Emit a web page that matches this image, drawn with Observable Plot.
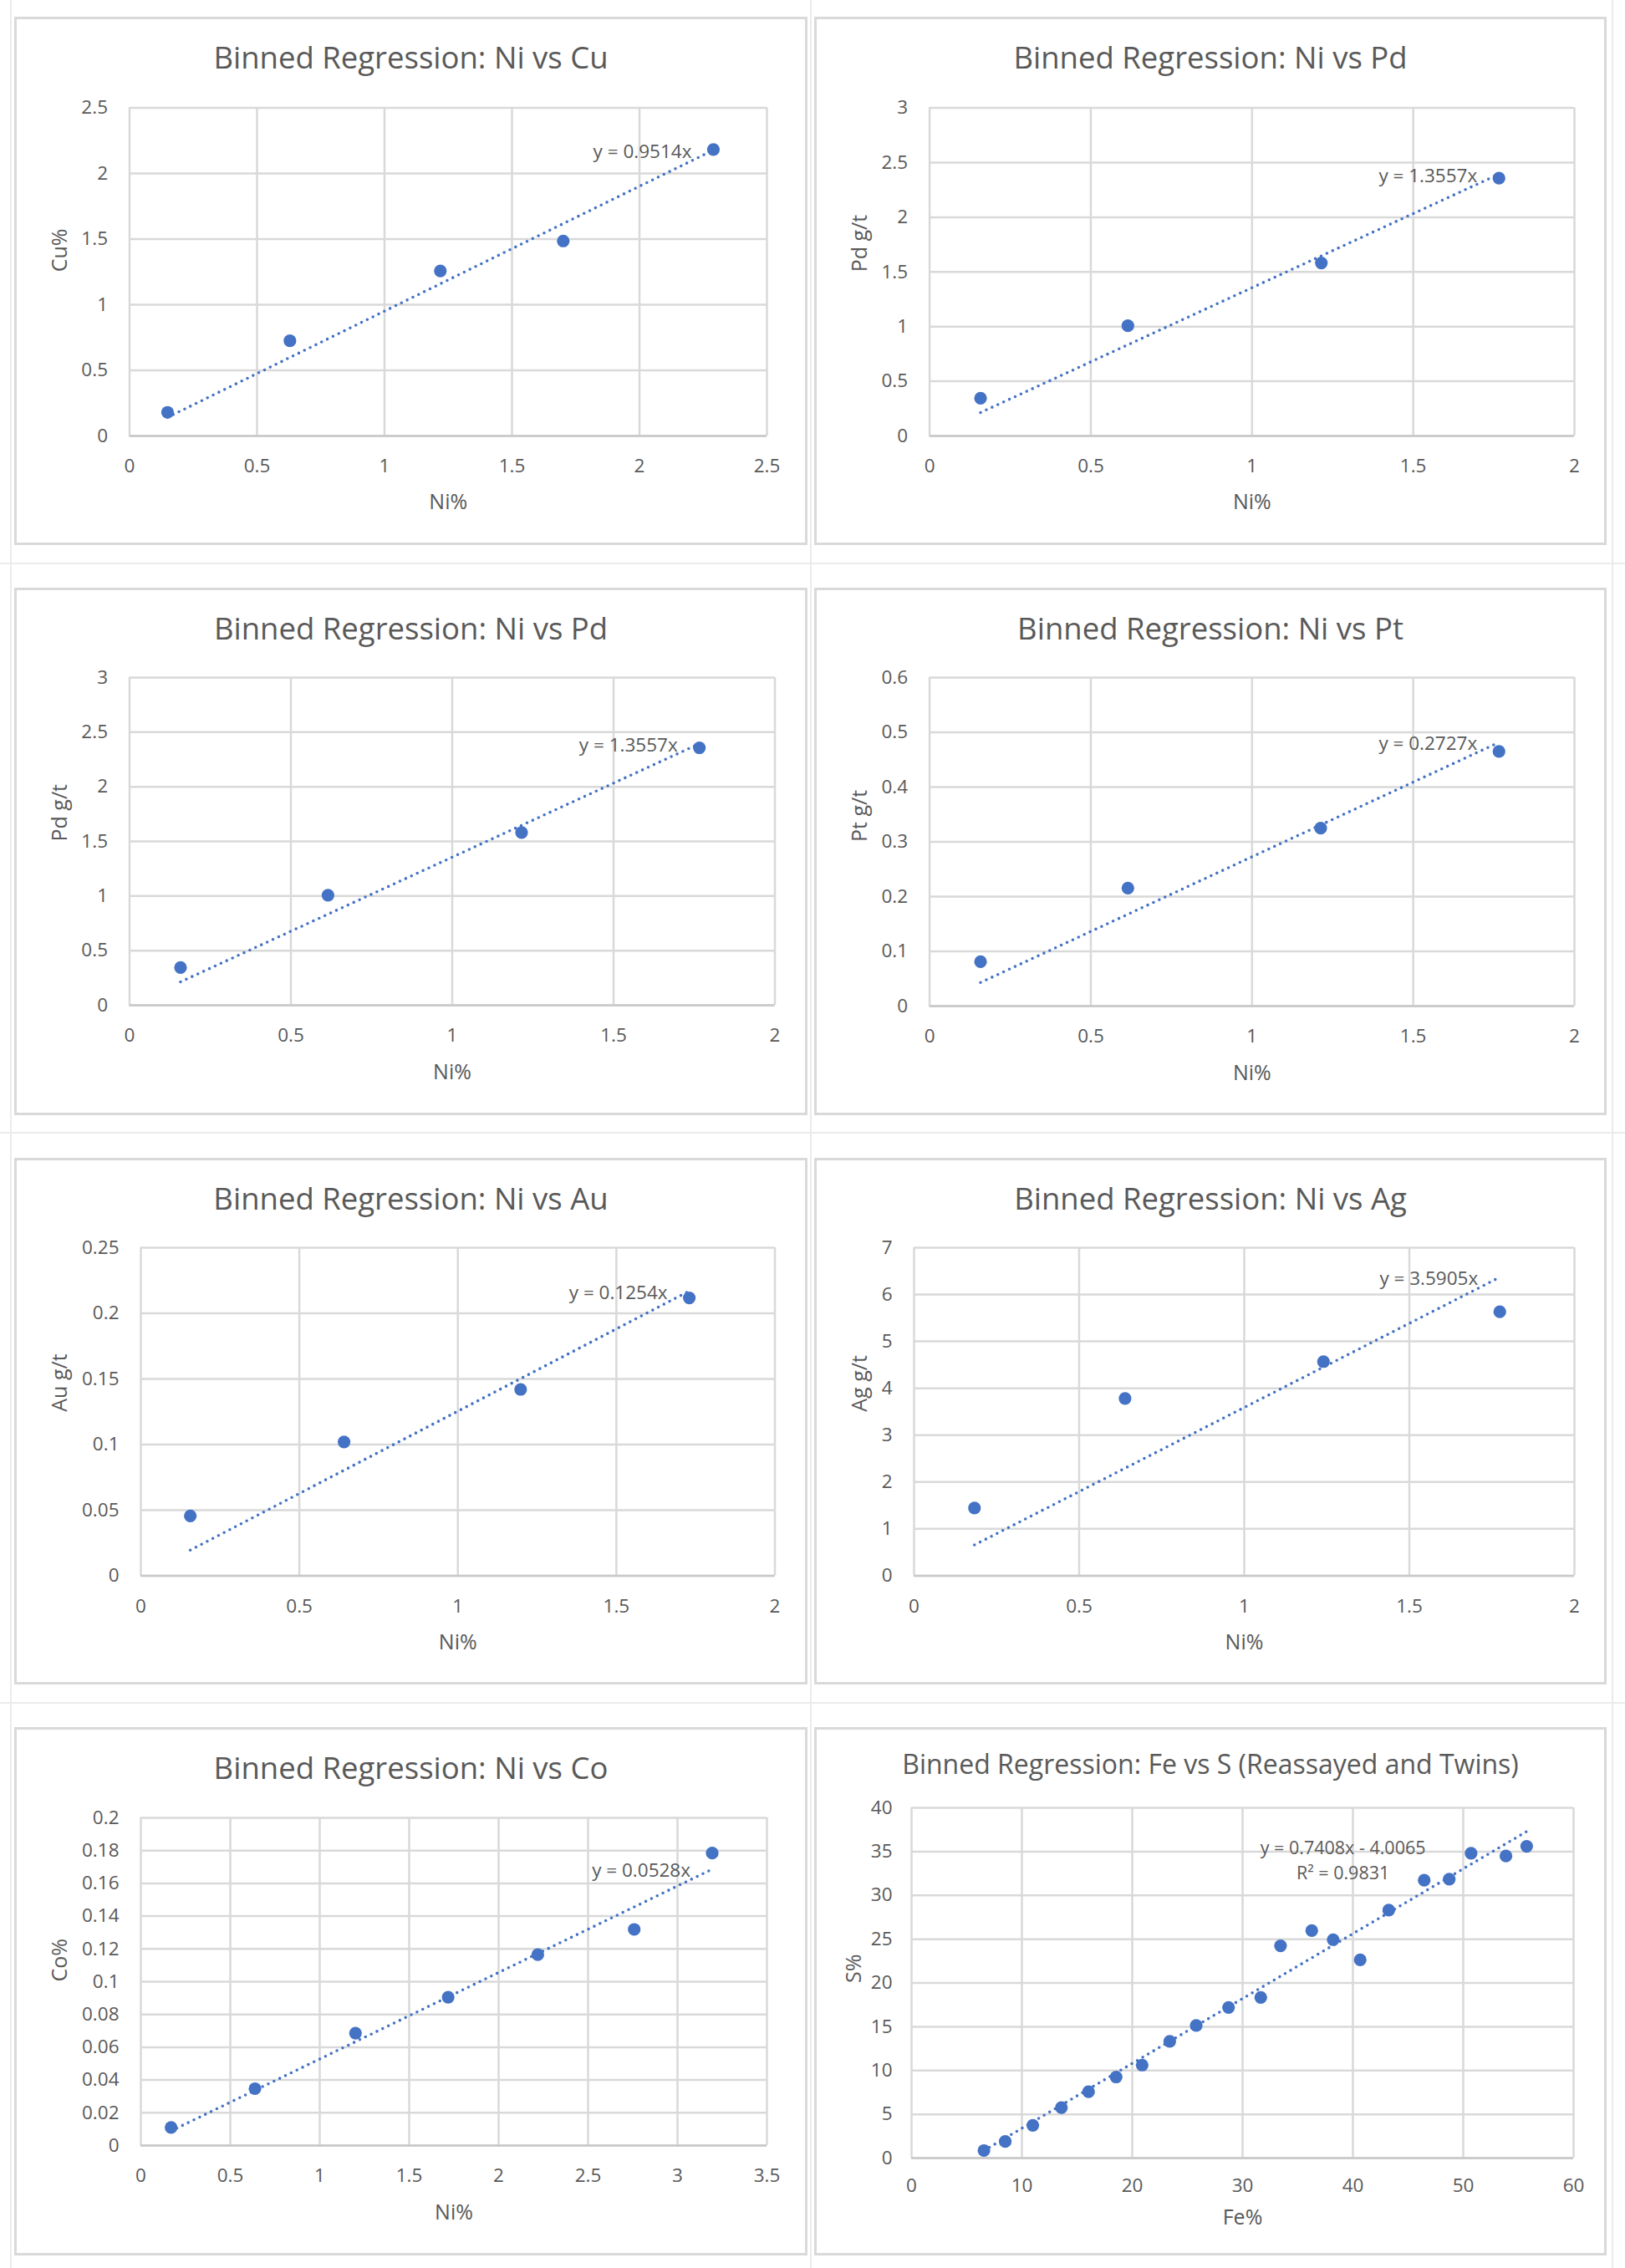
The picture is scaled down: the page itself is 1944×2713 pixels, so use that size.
<!DOCTYPE html>
<html>
<head>
<meta charset="utf-8">
<script src="https://cdn.jsdelivr.net/npm/d3@7"></script>
<script src="https://cdn.jsdelivr.net/npm/@observablehq/plot@0.6"></script>
<style>
  html, body { margin: 0; padding: 0; background: #ffffff; }
  body { width: 1944px; height: 2713px; position: relative; overflow: hidden; font-family: 'Open Sans', 'Noto Sans', sans-serif; }
  .panel { position: absolute; }
  .frame { position: absolute; left: 0; top: 0; right: 0; bottom: 0; border: 3px solid #d9d9d9; box-sizing: border-box; pointer-events: none; }
  .title { position: absolute; left: 0; right: 0; text-align: center; color: #595959; white-space: nowrap; }
  .plotbox { position: absolute; left: 0; }
  .cellline { position: absolute; background: #ebebeb; }
</style>
</head>
<body>
<script>
// ---------- data ----------
const titles = [
  "Binned Regression: Ni vs Cu",
  "Binned Regression: Ni vs Pd",
  "Binned Regression: Ni vs Pd",
  "Binned Regression: Ni vs Pt",
  "Binned Regression: Ni vs Au",
  "Binned Regression: Ni vs Ag",
  "Binned Regression: Ni vs Co",
  "Binned Regression: Fe vs S (Reassayed and Twins)"
];
const xLabels = ["Ni%", "Ni%", "Ni%", "Ni%", "Ni%", "Ni%", "Ni%", "Fe%"];
const yLabels = ["Cu%", "Pd g/t", "Pd g/t", "Pt g/t", "Au g/t", "Ag g/t", "Co%", "S%"];

const cuNi = [0.149, 0.629, 1.219, 1.701, 2.290];
const cuVal = [0.180, 0.725, 1.258, 1.486, 2.183];

const pdNi = [0.158, 0.615, 1.215, 1.766];
const pdVal = [0.345, 1.008, 1.582, 2.357];

const ptNi = [0.158, 0.615, 1.213, 1.766];
const ptVal = [0.081, 0.2155, 0.325, 0.465];

const auNi = [0.156, 0.641, 1.198, 1.730];
const auVal = [0.0456, 0.102, 0.142, 0.2117];

const agNi = [0.183, 0.639, 1.240, 1.774];
const agVal = [1.445, 3.784, 4.569, 5.633];

const coNi = [0.169, 0.638, 1.200, 1.718, 2.219, 2.758, 3.194];
const coVal = [0.011, 0.0347, 0.0686, 0.0905, 0.1165, 0.1319, 0.1785];

const feVal = [6.56, 8.49, 10.99, 13.58, 16.04, 18.54, 20.90, 23.40, 25.80, 28.73, 31.65,
               33.44, 36.27, 38.21, 40.66, 43.25, 46.46, 48.73, 50.71, 53.87, 55.75];
const sVal  = [0.86, 1.89, 3.74, 5.76, 7.57, 9.26, 10.62, 13.33, 15.14, 17.20, 18.35,
               24.24, 25.97, 24.94, 22.63, 28.31, 31.73, 31.85, 34.81, 34.49, 35.60];

// trendline equations (slope, intercept) and their labels
const slopes = [0.9514, 1.3557, 1.3557, 0.2727, 0.1254, 3.5905, 0.0528, 0.7408];
const intercepts = [0, 0, 0, 0, 0, 0, 0, -4.0065];
const eqLabels = ["y = 0.9514x", "y = 1.3557x", "y = 1.3557x", "y = 0.2727x", "y = 0.1254x",
                  "y = 3.5905x", "y = 0.0528x", "y = 0.7408x - 4.0065\nR² = 0.9831"];
const eqLabelFe = [39.1, 34.2]; // data-space anchor of the Fe vs S equation label

// axis ticks and tick labels
const xTicks = [
  [0, 0.5, 1, 1.5, 2, 2.5],
  [0, 0.5, 1, 1.5, 2],
  [0, 0.5, 1, 1.5, 2],
  [0, 0.5, 1, 1.5, 2],
  [0, 0.5, 1, 1.5, 2],
  [0, 0.5, 1, 1.5, 2],
  [0, 0.5, 1, 1.5, 2, 2.5, 3, 3.5],
  [0, 10, 20, 30, 40, 50, 60]
];
const xTickLabels = [
  ["0", "0.5", "1", "1.5", "2", "2.5"],
  ["0", "0.5", "1", "1.5", "2"],
  ["0", "0.5", "1", "1.5", "2"],
  ["0", "0.5", "1", "1.5", "2"],
  ["0", "0.5", "1", "1.5", "2"],
  ["0", "0.5", "1", "1.5", "2"],
  ["0", "0.5", "1", "1.5", "2", "2.5", "3", "3.5"],
  ["0", "10", "20", "30", "40", "50", "60"]
];
const yTicks = [
  [0, 0.5, 1, 1.5, 2, 2.5],
  [0, 0.5, 1, 1.5, 2, 2.5, 3],
  [0, 0.5, 1, 1.5, 2, 2.5, 3],
  [0, 0.1, 0.2, 0.3, 0.4, 0.5, 0.6],
  [0, 0.05, 0.1, 0.15, 0.2, 0.25],
  [0, 1, 2, 3, 4, 5, 6, 7],
  [0, 0.02, 0.04, 0.06, 0.08, 0.1, 0.12, 0.14, 0.16, 0.18, 0.2],
  [0, 5, 10, 15, 20, 25, 30, 35, 40]
];
const yTickLabels = [
  ["0", "0.5", "1", "1.5", "2", "2.5"],
  ["0", "0.5", "1", "1.5", "2", "2.5", "3"],
  ["0", "0.5", "1", "1.5", "2", "2.5", "3"],
  ["0", "0.1", "0.2", "0.3", "0.4", "0.5", "0.6"],
  ["0", "0.05", "0.1", "0.15", "0.2", "0.25"],
  ["0", "1", "2", "3", "4", "5", "6", "7"],
  ["0", "0.02", "0.04", "0.06", "0.08", "0.1", "0.12", "0.14", "0.16", "0.18", "0.2"],
  ["0", "5", "10", "15", "20", "25", "30", "35", "40"]
];

const seriesX = [cuNi, pdNi, pdNi, ptNi, auNi, agNi, coNi, feVal];
const seriesY = [cuVal, pdVal, pdVal, ptVal, auVal, agVal, coVal, sVal];

// ---------- layout (page pixels) ----------
// panel box [left, top, right, bottom] and plot box [left, top, right, bottom]
const panelBoxes = [
  [17, 20, 966, 652], [974, 20, 1922, 652],
  [17, 703, 966, 1334], [974, 703, 1922, 1334],
  [17, 1385, 966, 2015], [974, 1385, 1922, 2015],
  [17, 2066, 966, 2698], [974, 2066, 1922, 2698]
];
const plotBoxes = [
  [154.5, 128.6, 917, 521], [1111.6, 128.6, 1883, 521],
  [154.5, 810, 926.5, 1202], [1111.6, 810, 1883, 1203],
  [168, 1492, 926.5, 1884.4], [1093, 1492, 1883, 1884.4],
  [168, 2174, 917, 2566], [1090, 2162, 1882, 2581]
];
const titleSize = [36.5, 36.5, 36.5, 36.5, 36.5, 36.5, 36.5, 32];
const titleBaseline = [62.5, 62.5, 62.5, 62.5, 62.5, 62.5, 62.5, 56];
const yTitleCenter = [54.5, 54.5, 54.5, 54.5, 54.5, 54.5, 54.5, 47];
const xTitleOffset = [79, 79, 80, 80, 80, 80, 80, 71];
const xTickPad = [28, 28, 28, 28, 28, 28, 28, 25];
const yTickPad = [26, 26, 26, 26, 26, 26, 26, 23];
const eqSize = [22.5, 22.5, 22.5, 22.5, 22.5, 22.5, 22.5, 21.5];

const TITLE_H = 80;
const BLUE = "#4472C4";
const GREY_TEXT = "#595959";
const GRID = "#d9d9d9";
const FONT = "'Open Sans', 'Noto Sans', sans-serif";

// faint spreadsheet cell lines behind the charts
[[12, 0, 2, 2713], [969, 0, 2, 2713], [1928, 0, 2, 2713],
 [0, 673, 1944, 2], [0, 1354, 1944, 2], [0, 2036, 1944, 2]].forEach(([l, t, w, h]) => {
  const d = document.createElement("div");
  d.className = "cellline";
  Object.assign(d.style, {left: l + "px", top: t + "px", width: w + "px", height: h + "px"});
  document.body.appendChild(d);
});

titles.forEach((title, i) => {
  const [pl, pt, pr, pb] = panelBoxes[i];
  const [ql, qt, qr, qb] = plotBoxes[i];
  const W = pr - pl, H = pb - pt;

  const panel = document.createElement("div");
  panel.className = "panel";
  Object.assign(panel.style, {left: pl + "px", top: pt + "px", width: W + "px", height: H + "px", background: "#fff"});

  const t = document.createElement("div");
  t.className = "title";
  t.textContent = title;
  const fs = titleSize[i];
  Object.assign(t.style, {fontSize: fs + "px", lineHeight: fs + "px", top: (titleBaseline[i] - fs * 0.885) + "px", fontFamily: FONT});
  panel.appendChild(t);

  const pts = seriesX[i].map((x, k) => ({x, y: seriesY[i][k]}));
  const xMin = d3.min(seriesX[i]), xMax = d3.max(seriesX[i]);
  const trend = [xMin, xMax].map(x => ({x, y: slopes[i] * x + intercepts[i]}));
  const xt = xTicks[i], yt = yTicks[i];
  const xFmt = new Map(xt.map((v, k) => [v, xTickLabels[i][k]]));
  const yFmt = new Map(yt.map((v, k) => [v, yTickLabels[i][k]]));

  const eqMark = i === 7
    ? Plot.text([{x: eqLabelFe[0], y: eqLabelFe[1], t: eqLabels[i]}], {
        x: "x", y: "y", text: "t", textAnchor: "middle", lineAnchor: "middle",
        lineHeight: 1.4, fontSize: eqSize[i], fill: GREY_TEXT, fontFamily: FONT})
    : Plot.text([{x: trend[1].x, y: trend[1].y, t: eqLabels[i]}], {
        x: "x", y: "y", text: "t", textAnchor: "end", lineAnchor: "middle",
        dx: -26, dy: 2, fontSize: eqSize[i], fill: GREY_TEXT, fontFamily: FONT});

  const svgH = H - TITLE_H;
  const chart = Plot.plot({
    width: W,
    height: svgH,
    marginLeft: ql - pl,
    marginRight: pr - qr,
    marginTop: qt - pt - TITLE_H,
    marginBottom: pb - qb,
    x: {domain: [xt[0], xt[xt.length - 1]]},
    y: {domain: [yt[0], yt[yt.length - 1]]},
    style: {fontFamily: FONT, color: GREY_TEXT, background: "transparent", overflow: "visible"},
    marks: [
      Plot.gridX(xt, {stroke: GRID, strokeOpacity: 1, strokeWidth: 2.5}),
      Plot.gridY(yt, {stroke: GRID, strokeOpacity: 1, strokeWidth: 2.5}),
      Plot.ruleY([yt[0]], {stroke: "#c8c8c8", strokeWidth: 2.5}),
      Plot.axisX(xt, {tickSize: 0, tickPadding: xTickPad[i], fontSize: 22.5, fill: GREY_TEXT,
                      tickFormat: d => xFmt.get(d), label: null}),
      Plot.axisY(yt, {tickSize: 0, tickPadding: yTickPad[i], fontSize: 22.5, fill: GREY_TEXT,
                      tickFormat: d => yFmt.get(d), label: null}),
      Plot.line(trend, {x: "x", y: "y", stroke: BLUE, strokeWidth: 3.6,
                        strokeDasharray: "0 7.6", strokeLinecap: "round"}),
      Plot.dot(pts, {x: "x", y: "y", r: 7.6, fill: BLUE, stroke: null}),
      eqMark,
      Plot.text([xLabels[i]], {frameAnchor: "bottom", dy: xTitleOffset[i], lineAnchor: "middle",
                               fontSize: 25, fill: GREY_TEXT, fontFamily: FONT}),
      Plot.text([yLabels[i]], {frameAnchor: "left", rotate: -90, dx: -((ql - pl) - yTitleCenter[i]),
                               lineAnchor: "middle", fontSize: 25, fill: GREY_TEXT, fontFamily: FONT})
    ]
  });
  chart.classList.add("plotbox");
  chart.style.top = TITLE_H + "px";
  panel.appendChild(chart);

  const frame = document.createElement("div");
  frame.className = "frame";
  panel.appendChild(frame);

  document.body.appendChild(panel);
});
</script>
</body>
</html>
